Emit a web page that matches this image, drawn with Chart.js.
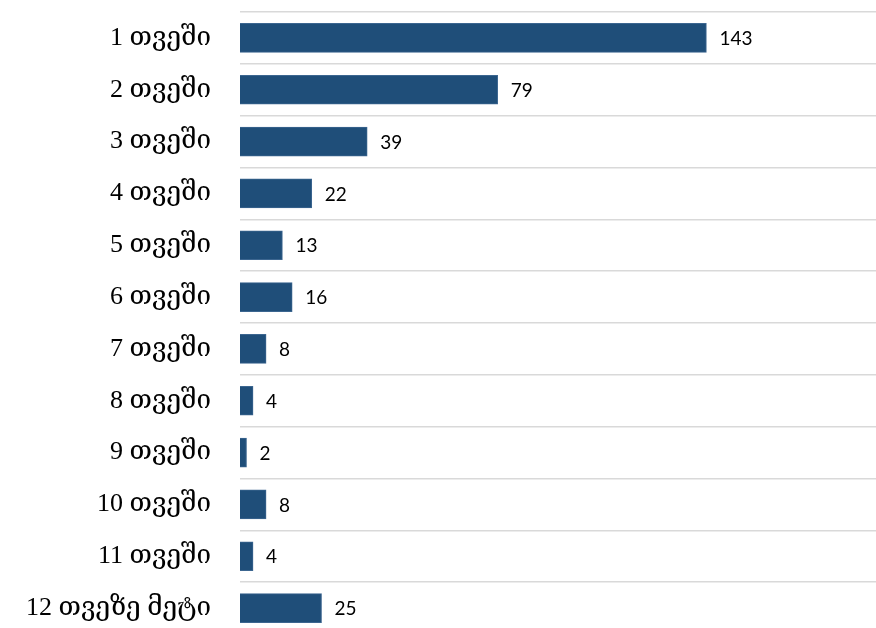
<!DOCTYPE html>
<html>
<head>
<meta charset="utf-8">
<script src="https://cdn.jsdelivr.net/npm/chart.js@4"></script>
<style>
  html, body { margin: 0; padding: 0; background: #ffffff; overflow: hidden; }
  #chart { display: block; }
</style>
</head>
<body>
<canvas id="chart" width="876" height="634"></canvas>
<script>
const categories = [
  '1 თვეში', '2 თვეში', '3 თვეში', '4 თვეში', '5 თვეში', '6 თვეში',
  '7 თვეში', '8 თვეში', '9 თვეში', '10 თვეში', '11 თვეში', '12 თვეზე მეტი'
];
const counts = [143, 79, 39, 22, 13, 16, 8, 4, 2, 8, 4, 25];

// draws the number next to the end of each bar
const valueLabels = {
  id: 'valueLabels',
  afterDatasetsDraw(chart) {
    const ctx = chart.ctx;
    const meta = chart.getDatasetMeta(0);
    ctx.save();
    ctx.font = '19px Lato, "Liberation Sans", sans-serif';
    ctx.fillStyle = '#000000';
    ctx.textAlign = 'left';
    ctx.textBaseline = 'middle';
    meta.data.forEach((bar, i) => {
      ctx.fillText(String(counts[i]), bar.x + 13, bar.y + 1);
    });
    ctx.restore();
  }
};

const ctx = document.getElementById('chart').getContext('2d');
new Chart(ctx, {
  type: 'bar',
  data: {
    labels: categories,
    datasets: [{
      data: counts,
      backgroundColor: '#1f4e79',
      borderColor: '#3c6690',
      borderWidth: 1,
      barThickness: 29
    }]
  },
  options: {
    indexAxis: 'y',
    responsive: false,
    animation: false,
    layout: { padding: { top: 12, right: 0, bottom: 0, left: 0 } },
    plugins: {
      legend: { display: false },
      tooltip: { enabled: false }
    },
    scales: {
      x: {
        display: false,
        min: 0,
        max: 195
      },
      y: {
        offset: true,
        afterFit: axis => {
          axis.width = 240;
          // tick padding should not push the plot down
          axis.paddingTop = 0;
          axis.paddingBottom = 0;
        },
        border: { display: false },
        grid: {
          offset: true,
          drawTicks: false,
          color: '#d9d9d9',
          lineWidth: 1.5
        },
        ticks: {
          padding: 29,
          color: '#000000',
          font: { family: '"Liberation Serif", "DejaVu Serif", serif', size: 26 }
        }
      }
    }
  },
  plugins: [valueLabels]
});
</script>
</body>
</html>
